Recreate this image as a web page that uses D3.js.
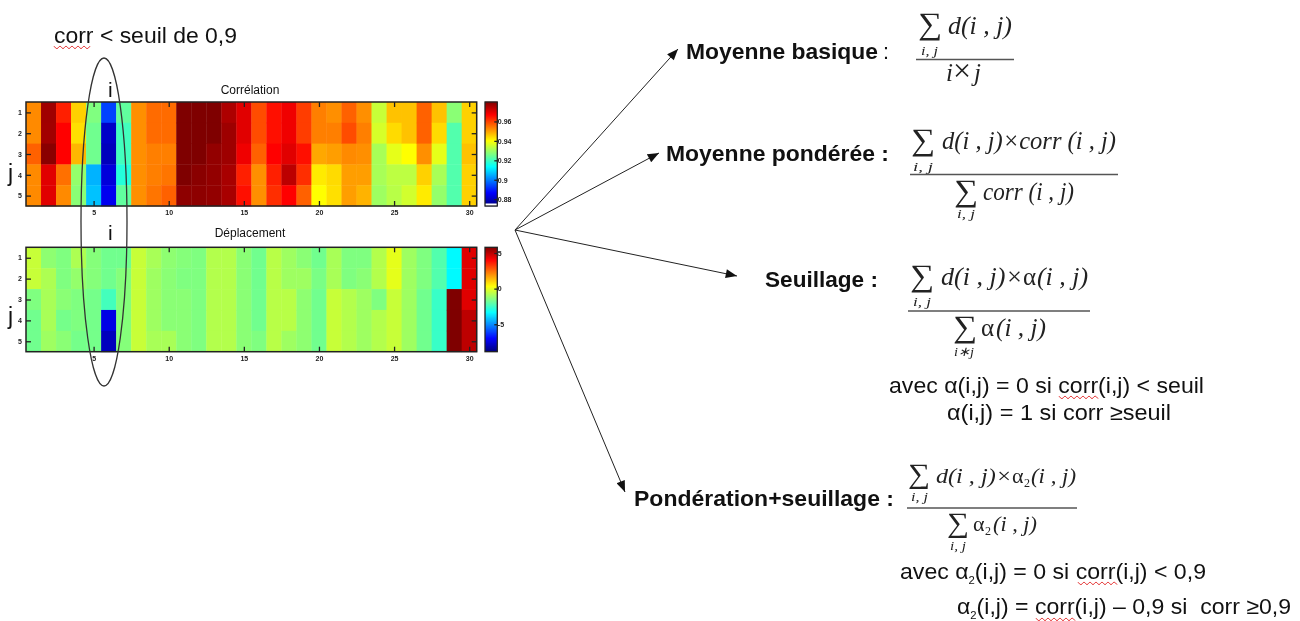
<!DOCTYPE html>
<html><head><meta charset="utf-8">
<script src="https://cdn.jsdelivr.net/npm/d3@7/dist/d3.min.js"></script>
<style>
html,body{margin:0;padding:0;background:#fff;overflow:hidden}
svg{display:block;filter:blur(0.35px)}
text{font-family:"Liberation Sans",Arial,sans-serif;fill:#111}
.m{font-family:"Liberation Serif",serif;font-style:italic;fill:#222}
.g{font-family:"Liberation Serif",serif;fill:#222}
.t{font-size:7px;font-weight:bold;fill:#222}
</style></head><body>
<svg id="c" width="1300" height="621"></svg>
<script>
const iValues=d3.range(1,31), jValues=[1,2,3,4,5];
const xTicks=[5,10,15,20,25,30];
const corrTicks=[0.96,0.94,0.92,0.9,0.88], dispTicks=[5,0,-5];
const corrDomain=[0.873,0.98], dispDomain=[-8.85,5.8];
// one inner array per column i, rows j = 1..5
const corrValues=[
[.9522,.9522,.9565,.9522,.9522],[.9765,.9763,.9789,.9698,.9698],[.9634,.9666,.9666,.9549,.9522],
[.9447,.9431,.9474,.9286,.9276],[.9265,.9249,.9249,.9051,.9067],[.8933,.8805,.8794,.8826,.8848],
[.9233,.9201,.9201,.9169,.9233],[.9516,.9516,.9516,.9516,.9516],[.9554,.9554,.9533,.9533,.9543],
[.9554,.9554,.9533,.9543,.9565],[.98,.98,.98,.98,.9784],[.98,.98,.98,.9789,.9784],
[.98,.98,.9779,.9779,.9779],[.9752,.9768,.9768,.9757,.9757],[.9698,.9698,.9682,.9634,.965],
[.9586,.9586,.9565,.9516,.9516],[.965,.965,.9666,.9634,.9618],[.9682,.9682,.9698,.9736,.9666],
[.9602,.9602,.965,.9618,.9565],[.9533,.9533,.949,.942,.9399],[.9516,.9533,.95,.9436,.9431],
[.9565,.9586,.9522,.95,.95],[.9516,.9533,.9516,.95,.9479],[.934,.9356,.9308,.9308,.9297],
[.9463,.9436,.9372,.9329,.9324],[.9463,.9463,.9399,.9329,.9351],[.9565,.9565,.9516,.9447,.942],
[.9463,.9436,.9372,.9308,.9286],[.9276,.9217,.9217,.9217,.9217],[.9447,.9447,.9463,.9447,.9447]];
const dispValues=[
[-.50,-.50,-1.53,-1.74,-1.74],[-1.31,-.87,-.94,-.94,-1.09],[-1.53,-1.53,-1.38,-1.67,-1.38],
[-.87,-1.23,-1.53,-1.53,-1.67],[-1.45,-1.45,-1.67,-1.67,-1.67],[-1.74,-1.74,-2.40,-7.39,-7.97],
[-1.74,-1.45,-1.45,-1.45,-1.45],[-.50,-.50,-.50,-.50,-.50],[-.94,-1.09,-1.09,-1.09,-.94],
[-1.31,-1.38,-1.38,-1.38,-.94],[-1.45,-1.53,-1.38,-1.38,-1.38],[-1.53,-1.53,-1.53,-1.53,-1.53],
[-.79,-.79,-.79,-.79,-.79],[-.79,-.79,-.79,-.79,-.79],[-1.38,-1.38,-1.38,-1.38,-1.38],
[-1.74,-1.74,-1.74,-1.74,-1.53],[-.72,-.72,-.72,-.72,-.72],[-1.09,-1.09,-.72,-.72,-1.09],
[-1.38,-1.09,-1.31,-1.31,-1.31],[-1.74,-1.60,-1.74,-1.74,-1.74],[-.94,-.94,-.50,-.50,-.50],
[-1.53,-1.53,-.79,-.79,-.79],[-1.53,-1.38,-1.09,-1.09,-1.09],[-.79,-.79,-1.53,-.79,-.79],
[-.06,-.06,-.50,-.50,-.50],[-1.09,-1.09,-1.09,-1.09,-1.09],[-1.53,-1.53,-1.74,-1.74,-1.74],
[-2.18,-2.18,-2.55,-2.55,-2.55],[-3.43,-3.43,5.8,5.8,5.8],[4.41,4.41,4.41,4.92,4.92]];

const svg=d3.select("#c");
const jetStops=[0,.125,.375,.625,.875,1], jetColors=["#00007f","#0000ff","#00ffff","#ffff00","#ff0000","#7f0000"];
const jet=d3.scaleLinear().domain(jetStops).range(jetColors).clamp(true);

function heatmap(top,bottom,values,domain,cbTicks,cbFormat,title,titleY,whiteFoot){
  const x=d3.scaleLinear().domain([.5,30.5]).range([26,476.7]);
  const y=d3.scaleLinear().domain([.5,5.5]).range([top,bottom]);
  const t=d3.scaleLinear().domain(domain).range([0,1]);
  const g=svg.append("g");
  iValues.forEach((i,ci)=>jValues.forEach((j,rj)=>{
    g.append("rect").attr("x",x(i-.5)).attr("y",y(j-.5))
     .attr("width",x(i+.5)-x(i-.5)+.4).attr("height",y(j+.5)-y(j-.5)+.4)
     .attr("fill",jet(t(values[ci][rj])));
  }));
  const deco=a=>{a.selectAll(".domain").attr("stroke","none");a.selectAll("line").attr("stroke","#222").attr("stroke-width",1.3);a.selectAll("text").attr("class","t").attr("fill",null);};
  g.append("g").attr("transform",`translate(0,${bottom})`).call(d3.axisBottom(x).tickValues(xTicks).tickSize(-5).tickPadding(4).tickFormat(d3.format("d"))).call(deco);
  g.append("g").attr("transform",`translate(0,${top})`).call(d3.axisTop(x).tickValues(xTicks).tickSize(-5).tickFormat("")).call(deco);
  g.append("g").attr("transform",`translate(26,0)`).call(d3.axisLeft(y).tickValues(jValues).tickSize(-5).tickPadding(4).tickFormat(d3.format("d"))).call(deco);
  g.append("g").attr("transform",`translate(476.7,0)`).call(d3.axisRight(y).tickValues(jValues).tickSize(-5).tickFormat("")).call(deco);
  g.append("rect").attr("x",26).attr("y",top).attr("width",450.7).attr("height",bottom-top).attr("fill","none").attr("stroke","#222").attr("stroke-width",1.5);
  g.append("text").attr("x",250).attr("y",titleY).attr("text-anchor","middle").attr("font-size",12).text(title);
  // colour bar
  const cy=d3.scaleLinear().domain(domain).range([bottom,top]);
  const cx0=485,cx1=497.3;
  d3.range(0,1,1/104).forEach(u=>{
    const v=domain[0]+u*(domain[1]-domain[0]);
    g.append("rect").attr("x",cx0).attr("width",cx1-cx0).attr("y",cy(v)-(bottom-top)/104-.3).attr("height",(bottom-top)/104+.6).attr("fill",jet(u));
  });
  if(whiteFoot) g.append("rect").attr("x",cx0).attr("width",cx1-cx0).attr("y",bottom-2.5).attr("height",2.5).attr("fill","#fff");
  g.append("g").attr("transform",`translate(${cx1},0)`).call(d3.axisRight(cy).tickValues(cbTicks).tickSize(-3).tickPadding(.5).tickFormat(cbFormat)).call(deco);
  g.append("rect").attr("x",cx0).attr("y",top).attr("width",cx1-cx0).attr("height",bottom-top).attr("fill","none").attr("stroke","#222").attr("stroke-width",1.3);
}
heatmap(102,206,corrValues,corrDomain,corrTicks,d=>String(d),"Corrélation",94,true);
heatmap(247.3,351.7,dispValues,dispDomain,dispTicks,d=>String(d),"Déplacement",237,false);

// annotations
svg.append("ellipse").attr("cx",104).attr("cy",222).attr("rx",23).attr("ry",164).attr("fill","none").attr("stroke","#333").attr("stroke-width",1.3);
function plain(s,x,y,size,opt={}){
  const t=svg.append("text").attr("x",x).attr("y",y).attr("font-size",size).attr("xml:space","preserve");
  if(opt.cls)t.attr("class",opt.cls);
  if(opt.bold)t.attr("font-weight","bold");
  if(opt.w)t.attr("textLength",opt.w).attr("lengthAdjust","spacingAndGlyphs");
  if(opt.anchor)t.attr("text-anchor",opt.anchor);
  t.text(s);return t;
}
// one text element with a subscript 2 inside it
function withSub(before,after,x,y,size,w){
  const t=svg.append("text").attr("x",x).attr("y",y).attr("font-size",size).attr("xml:space","preserve")
    .attr("textLength",w).attr("lengthAdjust","spacingAndGlyphs");
  t.append("tspan").text(before);
  t.append("tspan").attr("dy",5).attr("font-size",11).text("2");
  t.append("tspan").attr("dy",-5).text(after);
}
plain("i",108,97,21);plain("i",108,240,21);plain("j",8,181,23);plain("j",8,324,23);
plain("corr < seuil de 0,9",54,43,22.5,{w:183});

// arrows
const origin=[515,230], tips=[[678,49],[659,153],[737,276],[625,492]];
const arrowLine=d3.line();
svg.append("defs").append("marker").attr("id","ah").attr("viewBox","0 0 10 8").attr("refX",10).attr("refY",4)
  .attr("markerWidth",13).attr("markerHeight",9).attr("markerUnits","userSpaceOnUse").attr("orient","auto")
  .append("path").attr("d","M0,0L10,4L0,8Z").attr("fill","#111");
tips.forEach(t=>svg.append("path").attr("d",arrowLine([origin,t])).attr("stroke","#222").attr("stroke-width",1).attr("fill","none").attr("marker-end","url(#ah)"));

// method labels
plain("Moyenne basique",686,59,21.5,{bold:1,w:192});plain(":",883,59,21.5);
plain("Moyenne pondérée :",666,161,21.5,{bold:1,w:223});
plain("Seuillage :",765,287,21.5,{bold:1,w:113});
plain("Pondération+seuillage :",634,506,21.5,{bold:1,w:260});

// formula pieces
const MS=25, MS4=22;
function sum(x,y,size,w){svg.append("text").attr("class","g").attr("x",x).attr("y",y).attr("font-size",size).attr("textLength",w).attr("lengthAdjust","spacingAndGlyphs").text("∑");}
function rule(x0,x1,y){svg.append("path").attr("d",d3.line()([[x0,y],[x1,y]])).attr("stroke","#555").attr("stroke-width",1.3);}
function mathText(s,x,y,size,w){return plain(s,x,y,size,{cls:"m",w});}
// Moyenne basique
sum(918,34,31,24);mathText("d(i , j)",948,34,MS,64);mathText("i, j",921,55,13,17);rule(916,1014,59.5);
mathText("i",946,81,MS);plain("×",953,81,32,{cls:"g"});mathText("j",974,81,MS);
// Moyenne pondérée
sum(911,150,31,24);mathText("d(i , j)×corr (i , j)",942,149,MS,174);mathText("i, j",913,171,13,20);rule(910,1118,174.5);
sum(954,201,31,24);mathText("corr (i , j)",983,200,MS,91);mathText("i, j",957,218,13,18);
// Seuillage
sum(910,286,31,24);mathText("d(i , j)×",941,285,MS,82);plain("α",1023,285,MS,{cls:"g"});mathText("(i , j)",1037,285,MS,51);mathText("i, j",913,306,13,18);rule(908,1090,311);
sum(953,337,31,24);plain("α",981,336,MS,{cls:"g"});mathText("(i , j)",996,336,MS,50);mathText("i∗j",954,356,13,20);
plain("avec α(i,j) = 0 si corr(i,j) < seuil",889,393,22,{w:315});
plain("α(i,j) = 1 si corr ≥seuil",947,420,22,{w:224});
// Pondération+seuillage
sum(908,483,28,22);mathText("d(i , j)×",936,483,MS4,76);plain("α",1012,483,MS4,{cls:"g"});plain("2",1024,487,12,{cls:"g"});mathText("(i , j)",1031,483,MS4,45);mathText("i, j",911,501,13,17);rule(907,1077,508);
sum(947,532,28,22);plain("α",973,531,MS4,{cls:"g"});plain("2",985,535,12,{cls:"g"});mathText("(i , j)",993,531,MS4,44);mathText("i, j",950,550,13,16);
withSub("avec α","(i,j) = 0 si corr(i,j) < 0,9",900,579,22.5,306);
withSub("α","(i,j) = corr(i,j) – 0,9 si  corr ≥0,9",957,614,22.5,334);

// spell-check underlines
function wavy(x0,x1,y){
  const pts=d3.range(x0,x1+.1,3).map((px,k)=>[px,y+(k%2?1.6:-.8)]);
  svg.append("path").attr("d",d3.line().curve(d3.curveMonotoneX)(pts)).attr("fill","none").attr("stroke","#e02020").attr("stroke-width",1);
}
wavy(54,92,47);wavy(1059,1098,397);wavy(1078,1117,583);wavy(1036,1075,619);
</script></body></html>
